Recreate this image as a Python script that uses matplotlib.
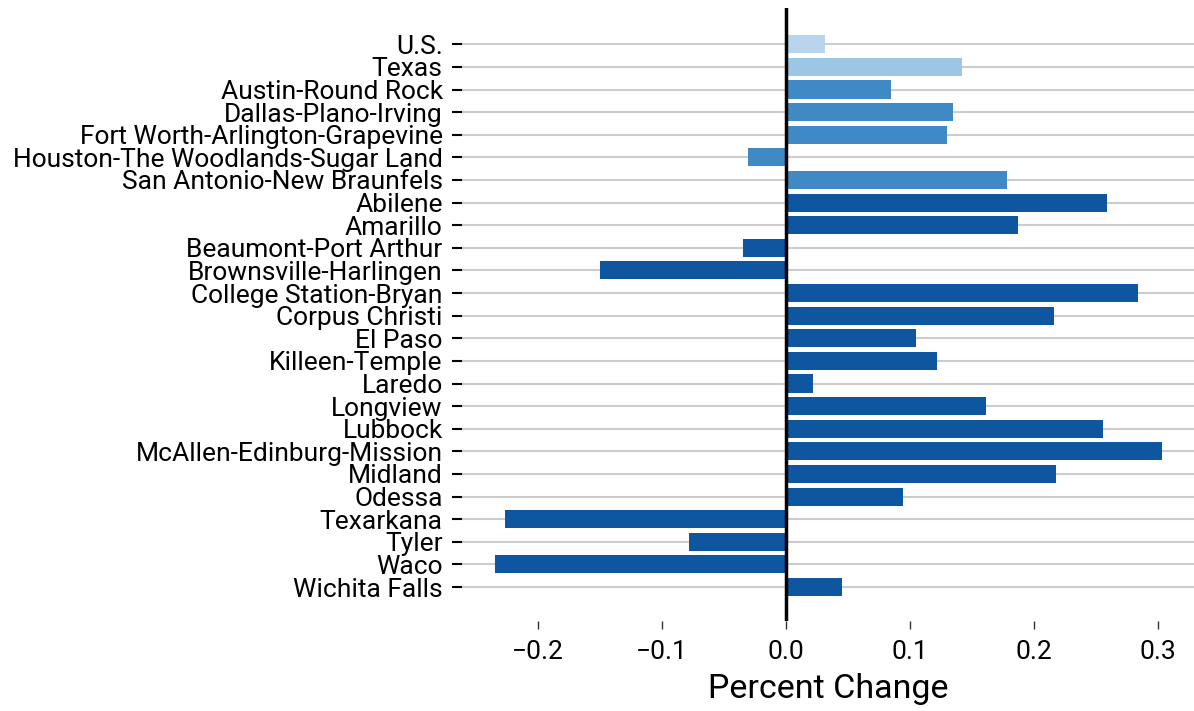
import matplotlib
matplotlib.use("Agg")
import matplotlib.pyplot as plt

plt.rcParams['font.family'] = ['Roboto', 'DejaVu Sans']

areas = ["U.S.", "Texas", "Austin-Round Rock", "Dallas-Plano-Irving",
         "Fort Worth-Arlington-Grapevine", "Houston-The Woodlands-Sugar Land",
         "San Antonio-New Braunfels", "Abilene", "Amarillo", "Beaumont-Port Arthur",
         "Brownsville-Harlingen", "College Station-Bryan", "Corpus Christi", "El Paso",
         "Killeen-Temple", "Laredo", "Longview", "Lubbock", "McAllen-Edinburg-Mission",
         "Midland", "Odessa", "Texarkana", "Tyler", "Waco", "Wichita Falls"]
pct_change = [0.031, 0.142, 0.085, 0.135, 0.130, -0.031, 0.178, 0.259, 0.187, -0.035,
              -0.150, 0.284, 0.216, 0.105, 0.122, 0.022, 0.161, 0.256, 0.303, 0.218,
              0.094, -0.227, -0.078, -0.235, 0.045]
groups = ["us", "state"] + ["large"] * 5 + ["other"] * 18
group_colors = {"us": "#b9d5ed", "state": "#9cc7e4", "large": "#3f8ac4", "other": "#0e56a0"}
xticks = [-0.2, -0.1, 0.0, 0.1, 0.2, 0.3]

fig = plt.figure(figsize=(11.94, 7.11), dpi=100)
ax = fig.add_axes([0.387, 0.1266, 0.613, 0.862])

ypos = list(range(len(areas)))
ax.barh(ypos, pct_change, height=0.8, color=[group_colors[g] for g in groups], zorder=2)
ax.axvline(0, color="black", lw=2.5, zorder=3)

ax.set_yticks(ypos)
ax.set_yticklabels(areas, fontsize=19)
ax.set_ylim(25.5, -1.6)
ax.set_xlim(-0.2613, 0.329)
ax.set_xticks(xticks)
ax.set_xticklabels([f"{t:.1f}".replace("-", "\u2212") for t in xticks], fontsize=19)
ax.set_xlabel("Percent Change", fontsize=24.5, labelpad=6)

ax.grid(axis="y", color="#cccccc", lw=1.5, zorder=0)
ax.grid(axis="x", visible=False)
ax.set_axisbelow(True)
for s in ax.spines.values():
    s.set_visible(False)
ax.tick_params(axis="y", length=7, width=1.5, color="black", pad=7)
ax.tick_params(axis="x", length=6, width=1.0, color="#333333", pad=8)

fig.savefig("out.png", dpi=100)
